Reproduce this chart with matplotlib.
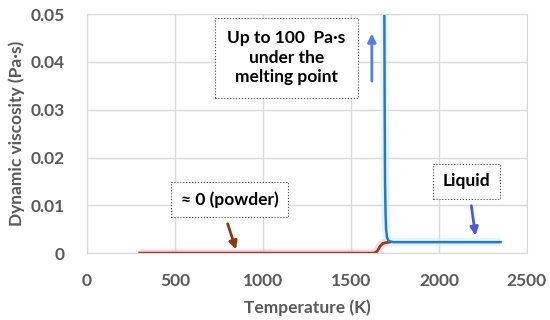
import matplotlib
matplotlib.use("Agg")
from matplotlib import pyplot as plt

# solid / powder phase (brown)
solid_T = [300, 1000, 1600, 1630, 1650, 1665, 1680, 1700, 1720]
solid_mu = [0, 0, 0, 0, 0.0004, 0.0014, 0.0020, 0.0022, 0.0023]

# liquid phase (blue)
liquid_T = [1690, 1692, 1694, 1697, 1700, 1705, 1715, 1740, 2000, 2350]
liquid_mu = [0.05, 0.03, 0.015, 0.008, 0.005, 0.0033, 0.0025, 0.0023, 0.0023, 0.0023]

GRAY = "#595959"
plt.rcParams["font.family"] = ["Lato", "DejaVu Sans"]

fig = plt.figure(figsize=(5.5, 3.2), dpi=100)
ax = fig.add_axes([0.158, 0.209, 0.8, 0.747])

# faint glow under the lines
ax.plot(solid_T, solid_mu, color="#ff99dd", lw=6, alpha=0.35, solid_capstyle="butt")
ax.plot(liquid_T, liquid_mu, color="#bff3ff", lw=6, alpha=0.5, solid_capstyle="butt")
ax.plot(solid_T, solid_mu, color="#9c3b12", lw=2)
ax.plot(liquid_T, liquid_mu, color="#2e75c6", lw=1.8)

ax.set_xlim(0, 2500)
ax.set_ylim(0, 0.05)
ax.set_xticks([0, 500, 1000, 1500, 2000, 2500])
ax.set_yticks([0, 0.01, 0.02, 0.03, 0.04, 0.05])
ax.set_yticklabels(["0", "0.01", "0.02", "0.03", "0.04", "0.05"])
ax.grid(True, color="#d9d9d9", lw=1)
ax.set_axisbelow(True)
for s in ax.spines.values():
    s.set_color("#d9d9d9")
ax.tick_params(length=0, labelsize=12.5, labelcolor=GRAY)
ax.tick_params(axis="y", pad=16)
ax.tick_params(axis="x", pad=14)
for lab in ax.get_xticklabels() + ax.get_yticklabels():
    lab.set_fontweight("bold")
ax.set_xlabel("Temperature (K)", fontsize=12.5, fontweight="bold", color=GRAY, labelpad=8)
ax.set_ylabel("Dynamic viscosity (Pa·s)", fontsize=12.5, fontweight="bold", color=GRAY, labelpad=4)

box = dict(boxstyle="square,pad=0.7", fc="white", ec="#444444", lw=0.8, ls=":")
ax.text(1134, 0.0409, "Up to 100  Pa·s\nunder the\nmelting point", ha="center", va="center",
        fontsize=12.5, fontweight="bold", linespacing=1.3, bbox=box)
box2 = dict(boxstyle="square,pad=0.55", fc="white", ec="#444444", lw=0.8, ls=":")
ax.text(810, 0.0112, "≈ 0 (powder)", ha="center", va="center",
        fontsize=12.5, fontweight="bold", bbox=box2)
ax.text(2156, 0.0150, "Liquid", ha="center", va="center",
        fontsize=12.5, fontweight="bold", bbox=box2)

ax.annotate("", xy=(1619, 0.0465), xytext=(1619, 0.0354),
            arrowprops=dict(arrowstyle="-|>", color="#4f81d6", lw=2, mutation_scale=12))
ax.annotate("", xy=(852, 0.0002), xytext=(795, 0.0067),
            arrowprops=dict(arrowstyle="-|>", color="#8b3a0f", lw=2, mutation_scale=12))
ax.annotate("", xy=(2210, 0.0031), xytext=(2182, 0.0105),
            arrowprops=dict(arrowstyle="-|>", color="#4d5bd6", lw=2, mutation_scale=12))

fig.savefig("out.png", dpi=100)
